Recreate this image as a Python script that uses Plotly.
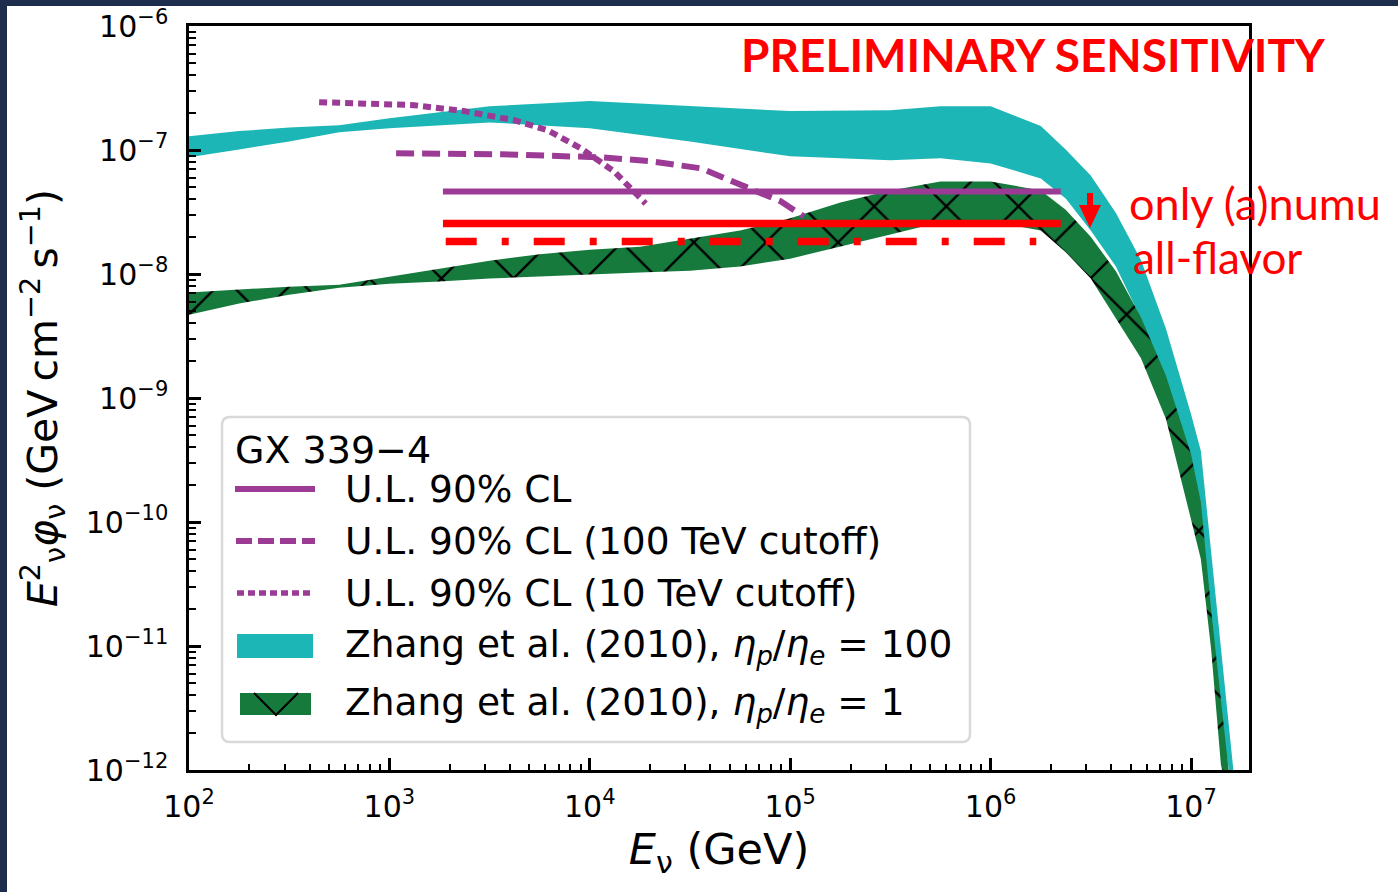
import plotly.graph_objects as go

# ---------------- data ----------------
# Zhang et al. (2010), eta_p/eta_e = 100  (band)
CYAN_E = [1.0e2, 1.78e2, 3.16e2, 5.62e2, 1.0e3, 3.16e3, 1.0e4, 3.16e4, 1.0e5, 3.16e5,
          5.62e5, 1.0e6, 1.78e6, 2.37e6, 3.16e6, 4.22e6, 5.62e6, 7.5e6, 1.0e7, 1.12e7,
          1.26e7, 1.41e7, 1.58e7, 1.70e7]
CYAN_UPPER = [1.29e-7, 1.42e-7, 1.52e-7, 1.58e-7, 1.80e-7, 2.25e-7, 2.48e-7, 2.25e-7, 2.06e-7, 2.09e-7,
              2.25e-7, 2.25e-7, 1.56e-7, 1.01e-7, 6.24e-8, 3.1e-8, 1.3e-8, 3.62e-9, 7.43e-10, 3.73e-10,
              6.0e-11, 9.3e-12, 1.7e-12, 5e-13]
CYAN_LOWER = [8.73e-8, 1.01e-7, 1.17e-7, 1.39e-7, 1.50e-7, 1.67e-7, 1.50e-7, 1.17e-7, 8.89e-8, 8.26e-8,
              8.57e-8, 7.80e-8, 5.90e-8, 4.07e-8, 2.24e-8, 1.15e-8, 4.37e-9, 1.17e-9, 3.24e-10, 1.26e-10,
              1.5e-11, 2.5e-12, 8e-13, 4e-13]

# Zhang et al. (2010), eta_p/eta_e = 1  (hatched band)
GREEN_E = [1.0e2, 1.78e2, 3.16e2, 5.62e2, 1.0e3, 1.78e3, 3.16e3, 5.62e3, 1.0e4, 1.78e4,
           3.16e4, 5.62e4, 1.0e5, 1.78e5, 3.16e5, 5.62e5, 1.0e6, 1.78e6, 2.37e6, 3.16e6,
           4.22e6, 5.62e6, 7.5e6, 1.0e7, 1.12e7, 1.26e7, 1.41e7, 1.58e7]
GREEN_UPPER = [7.08e-9, 7.48e-9, 7.91e-9, 8.20e-9, 9.53e-9, 1.11e-8, 1.28e-8, 1.44e-8, 1.57e-8, 1.66e-8,
               1.93e-8, 2.24e-8, 2.81e-8, 3.78e-8, 4.72e-8, 5.58e-8, 5.58e-8, 4.72e-8, 3.3e-8, 2.0e-8,
               1.05e-8, 4.5e-9, 1.51e-9, 3.53e-10, 1.45e-10, 1.97e-11, 3.69e-12, 7e-13]
GREEN_LOWER = [4.70e-9, 5.77e-9, 6.81e-9, 7.76e-9, 8.36e-9, 8.69e-9, 9.18e-9, 9.53e-9, 9.89e-9, 1.03e-8,
               1.06e-8, 1.15e-8, 1.33e-8, 1.66e-8, 2.08e-8, 2.61e-8, 2.65e-8, 2.24e-8, 1.5e-8, 9.2e-9,
               4.4e-9, 2.1e-9, 6.78e-10, 1.05e-10, 5.0e-11, 9.4e-12, 1.1e-12, 5e-13]

# U.L. 90% CL
UL_E = [1850, 2.24e6]
UL_F = [4.63e-8, 4.63e-8]
# U.L. 90% CL (100 TeV cutoff)
UL100_E = [1080, 2000, 3600, 11400, 20200, 35900, 58700, 71500, 89900, 117000]
UL100_F = [9.40e-8, 9.38e-8, 9.23e-8, 8.73e-8, 8.11e-8, 7.11e-8, 5.19e-8, 4.47e-8, 3.85e-8, 2.91e-8]
# U.L. 90% CL (10 TeV cutoff)
UL10_E = [446, 773, 1330, 2350, 4190, 6180, 9040, 13200, 19000]
UL10_F = [2.43e-7, 2.39e-7, 2.30e-7, 2.06e-7, 1.74e-7, 1.44e-7, 1.03e-7, 6.73e-8, 3.7e-8]
# preliminary sensitivities (red)
ANUMU_E = [1850, 2.24e6]
ANUMU_F = [2.55e-8, 2.55e-8]
ALLFLAV_E = [1910, 1.69e6]
ALLFLAV_F = [1.83e-8, 1.83e-8]

# ticks
X_TICKS = [1e2, 1e3, 1e4, 1e5, 1e6, 1e7]
X_TICK_LABELS = ["10<sup>2</sup>", "10<sup>3</sup>", "10<sup>4</sup>", "10<sup>5</sup>",
                 "10<sup>6</sup>", "10<sup>7</sup>"]
Y_TICKS = [1e-12, 1e-11, 1e-10, 1e-9, 1e-8, 1e-7, 1e-6]
Y_TICK_LABELS = ["10<sup>\u221212</sup>", "10<sup>\u221211</sup>", "10<sup>\u221210</sup>",
                 "10<sup>\u22129</sup>", "10<sup>\u22128</sup>", "10<sup>\u22127</sup>",
                 "10<sup>\u22126</sup>"]
X_MINOR = [m * 10 ** k for k in range(2, 8) for m in range(2, 10)]
Y_MINOR = [m * 10.0 ** k for k in range(-12, -6) for m in range(2, 10)]

LEGEND_TITLE = "GX 339\u22124"
LEGEND_LABELS = [
    "U.L. 90% CL",
    "U.L. 90% CL (100 TeV cutoff)",
    "U.L. 90% CL (10 TeV cutoff)",
    "Zhang et al. (2010), <i>\u03b7</i><sub><i>p</i></sub>/<i>\u03b7</i><sub><i>e</i></sub> = 100",
    "Zhang et al. (2010), <i>\u03b7</i><sub><i>p</i></sub>/<i>\u03b7</i><sub><i>e</i></sub> = 1",
]

# ---------------- style ----------------
NAVY = "#1F2D4D"
CYAN = "#1DB6B6"
GREEN = "#157A3C"
PURPLE = "#9C3B95"
RED = "#FF0000"

W, H = 1398, 892
L, R, T, B = 189, 1249, 26, 770


def px(X):
    return (X - L) / (R - L)


def py(Y):
    return (B - Y) / (B - T)


fig = go.Figure()

fig.add_trace(go.Scatter(
    x=CYAN_E + CYAN_E[::-1], y=CYAN_UPPER + CYAN_LOWER[::-1],
    fill="toself", fillcolor=CYAN, mode="lines", line=dict(width=0),
    name="Zhang et al. (2010), eta_p/eta_e = 100", hoverinfo="skip"))

fig.add_trace(go.Scatter(
    x=GREEN_E + GREEN_E[::-1], y=GREEN_UPPER + GREEN_LOWER[::-1],
    fill="toself", fillcolor=GREEN, mode="lines", line=dict(width=0),
    fillpattern=dict(shape="x", size=51, solidity=0.09, fgcolor="black",
                     bgcolor=GREEN, fgopacity=1, fillmode="replace"),
    name="Zhang et al. (2010), eta_p/eta_e = 1", hoverinfo="skip"))

fig.add_trace(go.Scatter(x=UL10_E, y=UL10_F, mode="lines",
                         line=dict(color=PURPLE, width=6, dash="8px,5px"),
                         name="U.L. 90% CL (10 TeV cutoff)"))
fig.add_trace(go.Scatter(x=UL100_E, y=UL100_F, mode="lines",
                         line=dict(color=PURPLE, width=6, dash="18px,8px"),
                         name="U.L. 90% CL (100 TeV cutoff)"))
fig.add_trace(go.Scatter(x=UL_E, y=UL_F, mode="lines",
                         line=dict(color=PURPLE, width=6), name="U.L. 90% CL"))
fig.add_trace(go.Scatter(x=ANUMU_E, y=ANUMU_F, mode="lines",
                         line=dict(color=RED, width=7.5), name="only (a)numu"))
fig.add_trace(go.Scatter(x=ALLFLAV_E, y=ALLFLAV_F, mode="lines",
                         line=dict(color=RED, width=7.5, dash="31px,25px,7px,25px"),
                         name="all-flavor"))

axis_common = dict(
    type="log", ticks="inside", ticklen=12, tickwidth=2.5, tickcolor="black",
    showline=True, linecolor="black", linewidth=2.5, mirror=True,
    showgrid=False, zeroline=False, automargin=False,
    tickfont=dict(family="DejaVu Sans", size=30, color="black"),
)

fig.update_xaxes(
    **axis_common, range=[2, 7.2894], tickmode="array",
    tickvals=X_TICKS, ticktext=X_TICK_LABELS, ticklabelstandoff=8,
    minor=dict(tickmode="array", tickvals=X_MINOR, ticks="inside", ticklen=6,
               tickwidth=1.5, tickcolor="black", showgrid=False),
    title=dict(text="<i>E</i><sub>\u03bd</sub> (GeV)",
               font=dict(family="DejaVu Sans", size=43, color="black"), standoff=8),
)
fig.update_yaxes(
    **axis_common, range=[-12, -6], tickmode="array",
    tickvals=Y_TICKS, ticktext=Y_TICK_LABELS, ticklabelstandoff=12,
    minor=dict(tickmode="array", tickvals=Y_MINOR, ticks="inside", ticklen=7,
               tickwidth=1.5, tickcolor="black", showgrid=False),
    title=dict(text="<i>E</i><sup>2</sup><sub>\u03bd</sub><i>\u03c6</i><sub>\u03bd</sub> "
                    "(GeV\u2009cm<sup>\u22122</sup>\u2009s<sup>\u22121</sup>)",
               font=dict(family="DejaVu Sans", size=41, color="black"), standoff=16),
)

shapes = []
# slide border (navy) at left and top
shapes.append(dict(type="rect", xref="paper", yref="paper", x0=px(0), x1=px(7),
                   y0=py(H), y1=py(0), fillcolor=NAVY, line=dict(width=0), layer="above"))
shapes.append(dict(type="rect", xref="paper", yref="paper", x0=px(0), x1=px(W),
                   y0=py(6), y1=py(0), fillcolor=NAVY, line=dict(width=0), layer="above"))


def rounded_rect(x0, y0, x1, y1, r):
    # pixel coordinates -> paper path with rounded corners
    pts = [
        f"M {px(x0 + r)},{py(y0)}",
        f"L {px(x1 - r)},{py(y0)}",
        f"Q {px(x1)},{py(y0)} {px(x1)},{py(y0 + r)}",
        f"L {px(x1)},{py(y1 - r)}",
        f"Q {px(x1)},{py(y1)} {px(x1 - r)},{py(y1)}",
        f"L {px(x0 + r)},{py(y1)}",
        f"Q {px(x0)},{py(y1)} {px(x0)},{py(y1 - r)}",
        f"L {px(x0)},{py(y0 + r)}",
        f"Q {px(x0)},{py(y0)} {px(x0 + r)},{py(y0)}",
        "Z",
    ]
    return " ".join(pts)


# legend box
shapes.append(dict(type="path", xref="paper", yref="paper",
                   path=rounded_rect(222, 417, 970, 742, 8),
                   fillcolor="rgba(255,255,255,0.85)", line=dict(color="#D9D9D9", width=2.5),
                   layer="above"))

ROWS = [489, 541, 593, 646, 704]
# legend samples
shapes.append(dict(type="line", xref="paper", yref="paper", x0=px(235), x1=px(315),
                   y0=py(ROWS[0]), y1=py(ROWS[0]), line=dict(color=PURPLE, width=6), layer="above"))
shapes.append(dict(type="line", xref="paper", yref="paper", x0=px(236), x1=px(315),
                   y0=py(ROWS[1]), y1=py(ROWS[1]),
                   line=dict(color=PURPLE, width=6, dash="16px,6px"), layer="above"))
shapes.append(dict(type="line", xref="paper", yref="paper", x0=px(237), x1=px(312),
                   y0=py(ROWS[2]), y1=py(ROWS[2]),
                   line=dict(color=PURPLE, width=5.5, dash="7px,4px"), layer="above"))
shapes.append(dict(type="rect", xref="paper", yref="paper", x0=px(237), x1=px(313),
                   y0=py(ROWS[3] + 12), y1=py(ROWS[3] - 12), fillcolor=CYAN,
                   line=dict(width=0), layer="above"))
shapes.append(dict(type="rect", xref="paper", yref="paper", x0=px(240), x1=px(311),
                   y0=py(ROWS[4] + 11), y1=py(ROWS[4] - 11), fillcolor=GREEN,
                   line=dict(width=0), layer="above"))
shapes.append(dict(type="path", xref="paper", yref="paper",
                   path=f"M {px(254)},{py(ROWS[4] - 11)} L {px(276)},{py(ROWS[4] + 11)} "
                        f"L {px(298)},{py(ROWS[4] - 11)}",
                   line=dict(color="black", width=2), layer="above"))

# red down arrow
shapes.append(dict(type="rect", xref="paper", yref="paper", x0=px(1087), x1=px(1093),
                   y0=py(207), y1=py(193), fillcolor=RED, line=dict(width=0), layer="above"))
shapes.append(dict(type="path", xref="paper", yref="paper",
                   path=f"M {px(1079)},{py(205)} L {px(1101)},{py(205)} L {px(1090)},{py(228)} Z",
                   fillcolor=RED, line=dict(width=0), layer="above"))

annotations = []
LEG_FONT = dict(family="DejaVu Sans", size=37.5, color="black")
annotations.append(dict(xref="paper", yref="paper", x=px(233), y=py(450), text=LEGEND_TITLE,
                        showarrow=False, xanchor="left", yanchor="middle",
                        font=dict(family="DejaVu Sans", size=38, color="black")))
for row, label in zip(ROWS, LEGEND_LABELS):
    annotations.append(dict(xref="paper", yref="paper", x=px(343), y=py(row), text=label,
                            showarrow=False, xanchor="left", yanchor="middle", font=LEG_FONT))

annotations.append(dict(xref="paper", yref="paper", x=px(1033), y=py(55),
                        text="PRELIMINARY SENSITIVITY", showarrow=False,
                        xanchor="center", yanchor="middle",
                        font=dict(family="Lato", size=46, color=RED, weight="bold")))
annotations.append(dict(xref="paper", yref="paper", x=px(1127), y=py(203),
                        text="only (a)numu", showarrow=False, xanchor="left", yanchor="middle",
                        font=dict(family="Lato", size=45, color=RED)))
annotations.append(dict(xref="paper", yref="paper", x=px(1131), y=py(257),
                        text="all-flavor", showarrow=False, xanchor="left", yanchor="middle",
                        font=dict(family="Lato", size=44, color=RED)))

fig.update_layout(
    width=W, height=H,
    margin=dict(l=L, r=W - R, t=T, b=H - B, autoexpand=False),
    paper_bgcolor="white", plot_bgcolor="white",
    showlegend=False,
    font=dict(family="DejaVu Sans", color="black"),
    shapes=shapes, annotations=annotations,
)

fig.write_html(
    "out.html",
    config={"displayModeBar": False},
    post_script="document.body.style.margin='0px';document.body.style.padding='0px';"
                "document.documentElement.style.overflow='hidden';",
)
